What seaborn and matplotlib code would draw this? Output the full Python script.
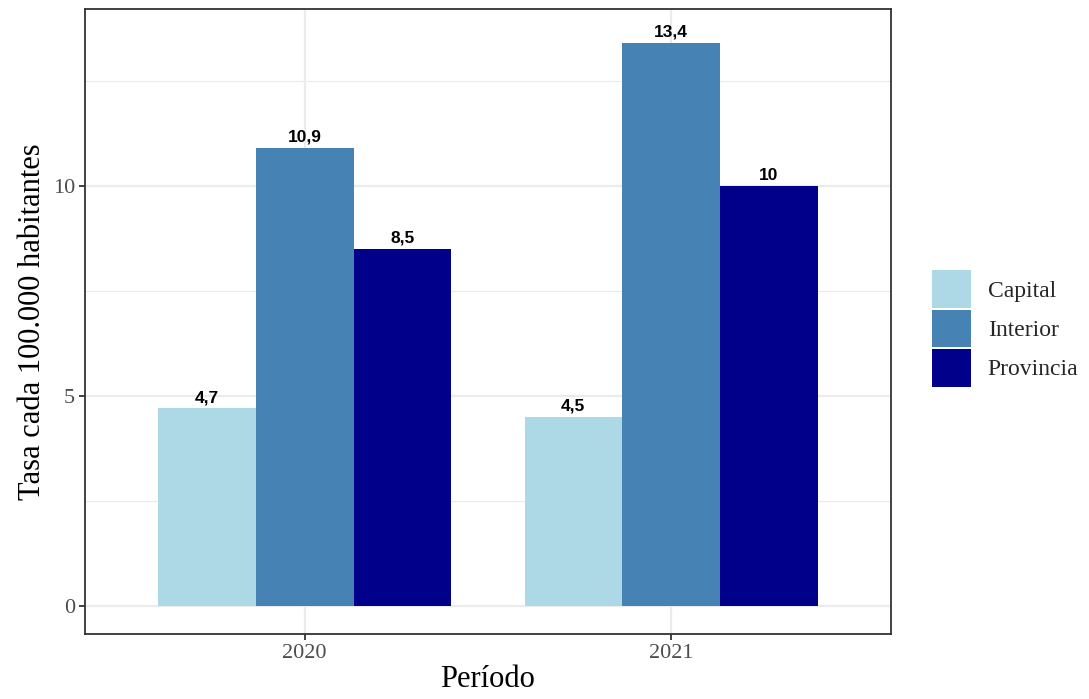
import matplotlib
matplotlib.use("Agg")
import matplotlib.pyplot as plt
import seaborn as sns
import pandas as pd
from matplotlib.patches import Patch

periods = ["2020", "2021"]
regions = ["Capital", "Interior", "Provincia"]
capital = [4.7, 4.5]
interior = [10.9, 13.4]
provincia = [8.5, 10.0]
colors = ["#ADD8E6", "#4682B4", "#00008B"]

rows = []
for i, p in enumerate(periods):
    for r, vals in zip(regions, [capital, interior, provincia]):
        rows.append({"Periodo": p, "Region": r, "Tasa": vals[i]})
df = pd.DataFrame(rows)

sns.set_theme(style="white")
plt.rcParams["font.family"] = ["Liberation Serif", "DejaVu Serif"]

fig = plt.figure(figsize=(10.89, 6.99), dpi=100)
ax = fig.add_axes([0.078, 0.093, 0.740, 0.894])

sns.barplot(data=df, x="Periodo", y="Tasa", hue="Region", order=periods,
            hue_order=regions, palette=colors, width=0.8, gap=0,
            saturation=1, linewidth=0, ax=ax, legend=False, zorder=3)

def fmt(v):
    s = f"{v:.1f}".replace(".", ",")
    if s.endswith(",0"):
        s = s[:-2]
    return s

for cont in ax.containers:
    ax.bar_label(cont, labels=[fmt(b.get_height()) for b in cont], padding=2,
                 fontsize=12.5, fontweight="bold", family="Liberation Sans",
                 color="black", zorder=5)

ax.set_xlim(-0.6, 1.6)
ax.set_ylim(-0.67, 14.2)
ax.set_yticks([0, 5, 10])
ax.set_yticks([2.5, 7.5, 12.5], minor=True)
ax.grid(True, which="major", color="#EBEBEB", linewidth=1.6, zorder=0)
ax.grid(True, which="minor", axis="y", color="#EBEBEB", linewidth=0.8, zorder=0)
ax.set_axisbelow(True)
for s in ax.spines.values():
    s.set_color("#333333")
    s.set_linewidth(1.3)
ax.tick_params(axis="both", which="major", length=4, width=1.3, color="#333333",
               labelsize=16, labelcolor="#4D4D4D", bottom=True, left=True, pad=3)
ax.tick_params(axis="both", which="minor", length=0)
ax.set_xlabel("Período", fontsize=22, color="black", labelpad=2)
ax.set_ylabel("Tasa cada 100.000 habitantes", fontsize=22, color="black", labelpad=4)

handles = [Patch(facecolor=c, edgecolor="none", label=r) for c, r in zip(colors, regions)]
fig.legend(handles=handles, loc="center left", bbox_to_anchor=(0.8475, 0.53),
           frameon=False, fontsize=17, handlelength=1.65, handleheight=2.07,
           handletextpad=0.7, labelspacing=0.08, borderaxespad=0)

fig.savefig("out.png", dpi=100)
